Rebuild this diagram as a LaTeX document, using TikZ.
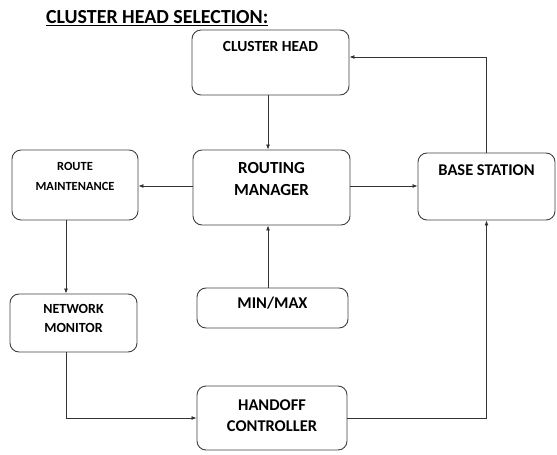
\documentclass[tikz,border=0pt]{standalone}
\usepackage{fontspec}
\setmainfont{Carlito}
\usetikzlibrary{arrows.meta}

\tikzset{
  box/.style={draw=black!75, line width=0.9bp, rounded corners=9bp, inner sep=0pt},
  boxtext/.style={font=\bfseries, align=center, inner sep=0pt, anchor=north},
  arr/.style={draw=black!80, line width=0.8bp, -{Latex[length=5bp,width=4bp]}}
}

\begin{document}
\begin{tikzpicture}[x=1bp,y=-1bp]
  \useasboundingbox (0,0) rectangle (557,455);
  \node[anchor=north west, inner sep=0pt, font=\fontsize{20}{22}\selectfont\bfseries] (title) at (46,10) {\underline{CLUSTER HEAD SELECTION:}};

  \node[box, minimum width=157bp, minimum height=65bp] (ch) at (270.5,62.5) {};
  \node[box, minimum width=126bp, minimum height=70bp] (rm) at (75,185) {};
  \node[box, minimum width=157bp, minimum height=75bp] (rtm) at (271.5,187.5) {};
  \node[box, minimum width=137bp, minimum height=67bp] (bs) at (486.5,186.5) {};
  \node[box, minimum width=151bp, minimum height=40bp] (mm) at (272.5,308) {};
  \node[box, minimum width=127bp, minimum height=58bp] (nm) at (73.5,323) {};
  \node[box, minimum width=150bp, minimum height=64bp] (hc) at (272,418) {};

  \node[boxtext, font=\fontsize{15.5}{20}\selectfont\bfseries] (chT) at ([yshift=-11.5bp]ch.north) {CLUSTER HEAD};
  \node[boxtext, font=\fontsize{12.5}{20}\selectfont\bfseries] (rmT) at ([yshift=-12.5bp]rm.north) {ROUTE\\MAINTENANCE};
  \node[boxtext, font=\fontsize{17}{22}\selectfont\bfseries] (rtmT) at ([yshift=-12.5bp]rtm.north) {ROUTING\\MANAGER};
  \node[boxtext, font=\fontsize{16.5}{22}\selectfont\bfseries] (bsT) at ([yshift=-12bp]bs.north) {BASE STATION};
  \node[boxtext, font=\fontsize{16.5}{22}\selectfont\bfseries] (mmT) at ([yshift=-9bp]mm.north) {MIN/MAX};
  \node[boxtext, font=\fontsize{14}{18.7}\selectfont\bfseries] (nmT) at ([yshift=-11bp]nm.north) {NETWORK\\MONITOR};
  \node[boxtext, font=\fontsize{16.5}{21}\selectfont\bfseries] (hcT) at ([yshift=-14bp]hc.north) {HANDOFF\\CONTROLLER};

  \coordinate (colA) at (66,0);
  \coordinate (rowA) at (0,57);
  \coordinate (rowB) at (0,186);
  \coordinate (colB) at (268,0);

  \draw[arr] (ch.south -| colB) -- (rtm.north -| colB);
  \draw[arr] (mm.north -| colB) -- (rtm.south -| colB);
  \draw[arr] (rtm.west |- rowB) -- (rm.east |- rowB);
  \draw[arr] (rtm.east |- rowB) -- (bs.west |- rowB);
  \draw[arr] (rm.south -| colA) -- (nm.north -| colA);
  \draw[arr] (nm.south -| colA) |- (hc.west);
  \draw[arr] (hc.east) -| (bs.south);
  \draw[arr] (bs.north) |- (ch.east |- rowA);
\end{tikzpicture}
\end{document}
